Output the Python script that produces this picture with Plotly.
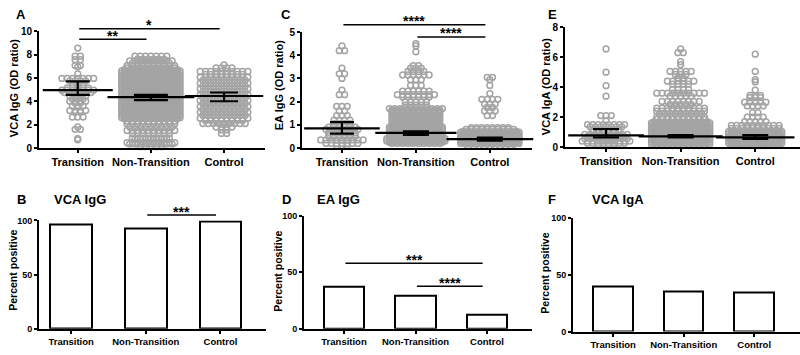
import plotly.graph_objects as go

W, H = 800, 355
categories = ["Transition", "Non-Transition", "Control"]

# ---------------- Panel A : VCA IgG (OD ratio) swarm rows (level, number of points) ----------------
A_T_levels = [8.55, 7.85, 7.55, 7.05, 6.95, 6.35, 5.95, 5.75, 5.4, 5.15, 4.95, 4.75, 4.45, 4.2, 4.0, 3.85, 3.6, 3.2, 3.05, 2.65, 1.8, 1.6, 0.8, 0.7]
A_T_counts = [1, 2, 2, 2, 1, 1, 7, 4, 3, 5, 7, 6, 4, 3, 4, 2, 3, 4, 2, 3, 1, 2, 1, 1]
A_NT_levels = [7.85, 7.6, 7.45, 7.25, 7.05, 6.85,
               6.7, 6.6, 6.5, 6.4, 6.3, 6.2, 6.1, 6.0, 5.9, 5.8, 5.7, 5.6, 5.5, 5.4, 5.3, 5.2, 5.1, 5.0,
               4.9, 4.8, 4.7, 4.6, 4.5, 4.4, 4.3, 4.2, 4.1, 4.0, 3.9, 3.8, 3.7, 3.6, 3.5, 3.4, 3.3, 3.2,
               3.1, 3.0, 2.9, 2.8, 2.7, 2.6, 2.5,
               2.3, 2.05, 1.8, 1.5, 1.25, 0.85, 0.75, 0.45, 0.35, 0.12]
A_NT_counts = [7, 6, 9, 8, 10, 10,
               11, 12, 11, 12, 11, 12, 11, 12, 11, 12, 11, 12, 11, 12, 11, 12, 11, 12,
               11, 12, 11, 12, 11, 12, 11, 12, 11, 12, 11, 12, 11, 12, 11, 12, 11, 12,
               11, 12, 11, 12, 11, 12, 11,
               10, 10, 9, 10, 8, 8, 7, 10, 9, 5]
A_C_levels = [7.1, 6.85, 6.55, 6.3, 6.05, 5.8, 5.55, 5.3, 5.05, 4.8, 4.55, 4.3, 4.05, 3.8, 3.55, 3.3, 3.05, 2.8, 2.55, 2.35, 2.1, 1.8, 1.55, 1.25]
A_C_counts = [1, 4, 10, 8, 10, 9, 10, 9, 10, 9, 10, 9, 10, 9, 10, 9, 10, 9, 10, 8, 9, 4, 2, 2]
A_mean = [4.95, 4.35, 4.45]
A_lo = [4.55, 4.1, 4.0]
A_hi = [5.7, 4.55, 4.75]

# ---------------- Panel C : EA IgG (OD ratio) ----------------
C_T_levels = [4.4, 4.2, 3.45, 3.2, 3.0, 2.5, 2.3, 1.8, 1.6, 1.4, 1.2, 1.05, 0.9, 0.8, 0.65, 0.5, 0.35, 0.2, 0.1]
C_T_counts = [1, 2, 1, 2, 1, 1, 2, 3, 2, 3, 4, 4, 6, 7, 6, 6, 9, 7, 3]
C_NT_levels = [4.5, 4.4, 4.15, 3.55, 3.45, 3.3, 3.15, 2.95, 2.7, 2.45, 2.3, 2.2, 2.0, 1.85,
               1.7, 1.65, 1.6, 1.55, 1.5, 1.45, 1.4, 1.35, 1.3, 1.25, 1.2, 1.15, 1.1, 1.05, 1.0,
               0.95, 0.9, 0.85, 0.8, 0.75, 0.7, 0.65, 0.6, 0.55, 0.5, 0.45, 0.4, 0.35, 0.3, 0.25, 0.2]
C_NT_counts = [1, 1, 1, 2, 3, 4, 6, 3, 3, 6, 8, 6, 5, 5,
               11, 10, 10, 10, 10, 9, 10, 9, 10, 9, 10, 9, 10, 9, 10,
               10, 11, 10, 11, 10, 11, 10, 11, 10, 11, 11, 12, 11, 12, 11, 10]
C_C_levels = [3.05, 2.95, 2.7, 2.35, 2.1, 1.9, 1.75, 1.6, 1.4, 0.88, 0.8,
              0.72, 0.68, 0.64, 0.6, 0.56, 0.52, 0.48, 0.44, 0.4, 0.36, 0.32, 0.28, 0.24, 0.2, 0.16]
C_C_counts = [2, 1, 1, 1, 4, 3, 2, 3, 2, 8, 10,
              11, 12, 11, 12, 11, 12, 11, 12, 11, 12, 11, 12, 11, 12, 10]
C_mean = [0.85, 0.65, 0.38]
C_lo = [0.62, 0.57, 0.32]
C_hi = [1.12, 0.72, 0.45]

# ---------------- Panel E : VCA IgA (OD ratio) ----------------
E_T_levels = [6.55, 5.0, 4.1, 3.4, 2.1, 1.75, 1.5, 1.35, 1.15, 1.0, 0.85, 0.7, 0.55, 0.4, 0.25, 0.1]
E_T_counts = [1, 1, 1, 1, 3, 1, 8, 7, 6, 6, 9, 8, 9, 10, 8, 4]
E_NT_levels = [6.55, 6.3, 5.7, 5.5, 5.05, 4.85, 4.6, 4.4, 4.2, 3.85, 3.6, 3.4, 3.05, 2.85, 2.6, 2.4, 2.2, 2.0, 1.85,
               1.7, 1.62, 1.54, 1.46, 1.38, 1.3, 1.22, 1.14, 1.06, 0.98, 0.9, 0.82, 0.74, 0.66, 0.58, 0.5,
               0.42, 0.34, 0.26, 0.18, 0.1]
E_NT_counts = [1, 2, 1, 1, 5, 3, 2, 6, 4, 4, 10, 5, 8, 5, 10, 10, 9, 10, 10,
               11, 12, 11, 12, 11, 12, 11, 12, 11, 12, 11, 12, 11, 12, 11, 12,
               11, 12, 11, 12, 10]
E_C_levels = [6.2, 5.05, 4.5, 4.35, 3.8, 3.45, 3.3, 3.0, 2.75, 2.3, 2.0, 1.7, 1.45, 1.25,
              1.05, 0.97, 0.89, 0.81, 0.73, 0.65, 0.57, 0.49, 0.41, 0.33, 0.25, 0.17, 0.1]
E_C_counts = [1, 1, 1, 1, 1, 3, 3, 5, 4, 2, 4, 5, 10, 10,
              11, 10, 11, 10, 11, 10, 11, 10, 11, 10, 11, 10, 9]
E_mean = [0.78, 0.72, 0.65]
E_lo = [0.65, 0.65, 0.55]
E_hi = [1.2, 0.8, 0.8]

# ---------------- Percent positive bars ----------------
B_pct = [96, 92.5, 99.5]
D_pct = [37, 29, 12.5]
F_pct = [39.5, 35, 34.5]

# significance comparisons: (from category, to category, label, level)
A_sig = [(0, 1, "**", 9.3), (0, 2, "*", 10.2)]
C_sig = [(0, 2, "****", 5.32), (1, 2, "****", 4.79)]
B_sig = [(1, 2, "***", 105)]
D_sig = [(0, 2, "***", 58), (1, 2, "****", 37.5)]

# ---------------- layout of panels (pixel boxes) ----------------
panels = {
    "A": dict(ax=1, px=(39, 265), py=(147, 26), xr=(-0.53, 2.56), yr=(0, 10), dt=2,
              title="VCA IgG (OD ratio)", tpos=(14, 85), letter=(21, 9)),
    "C": dict(ax=2, px=(302, 532), py=(147, 27), xr=(-0.54, 2.57), yr=(0, 5), dt=1,
              title="EA IgG (OD ratio)", tpos=(279, 82), letter=(286, 9)),
    "E": dict(ax=3, px=(565, 800), py=(146, 22), xr=(-0.55, 2.6), yr=(0, 8), dt=2,
              title="VCA IgA (OD ratio)", tpos=(546, 84), letter=(552, 9)),
    "B": dict(ax=4, px=(39, 266), py=(334, 222), xr=(-0.43, 2.61), yr=(0, 100), dt=50,
              title="Percent positive", tpos=(13, 274), letter=(21, 200), head=("VCA IgG", 80)),
    "D": dict(ax=5, px=(304, 532), py=(334, 217), xr=(-0.56, 2.63), yr=(0, 100), dt=50,
              title="Percent positive", tpos=(278, 275), letter=(286, 200), head=("EA IgG", 338)),
    "F": dict(ax=6, px=(573, 800), py=(337, 219), xr=(-0.57, 2.65), yr=(0, 100), dt=50,
              title="Percent positive", tpos=(545, 277), letter=(552, 200), head=("VCA IgA", 618)),
}

GRAY = "#a4a4a4"
FONT = "Liberation Sans, Arial, sans-serif"
fig = go.Figure()


def refs(p):
    n = p["ax"]
    return ("x" if n == 1 else f"x{n}"), ("y" if n == 1 else f"y{n}")


def to_px(p, x, y):
    (x0, x1), (r0, r1) = p["px"], p["xr"]
    (yb, yt), (v0, v1) = p["py"], p["yr"]
    return x0 + (x - r0) / (r1 - r0) * (x1 - x0), yb + (y - v0) / (v1 - v0) * (yt - yb)


def swarm(p, levels, counts, center):
    xs, ys = [], []
    ppu = (p["px"][1] - p["px"][0]) / (p["xr"][1] - p["xr"][0])
    dx = 5.3 / ppu
    for lv, n in zip(levels, counts):
        for k in range(n):
            xs.append(center + (k - (n - 1) / 2) * dx)
            ys.append(lv)
    return xs, ys


scatter_data = {
    "A": ([(A_T_levels, A_T_counts), (A_NT_levels, A_NT_counts), (A_C_levels, A_C_counts)],
          A_mean, A_lo, A_hi, [25, 31, 28], [12, 17, 14]),
    "C": ([(C_T_levels, C_T_counts), (C_NT_levels, C_NT_counts), (C_C_levels, C_C_counts)],
          C_mean, C_lo, C_hi, [27, 29, 31], [12, 13, 13]),
    "E": ([(E_T_levels, E_T_counts), (E_NT_levels, E_NT_counts), (E_C_levels, E_C_counts)],
          E_mean, E_lo, E_hi, [27, 30, 28], [13, 13, 13]),
}

for key, (groups, mean, lo, hi, mhw, caps) in scatter_data.items():
    p = panels[key]
    xr_, yr_ = refs(p)
    for i, (lv, ct) in enumerate(groups):
        xs, ys = swarm(p, lv, ct, i)
        fig.add_trace(go.Scatter(
            x=xs, y=ys, mode="markers", xaxis=xr_, yaxis=yr_, cliponaxis=False,
            marker=dict(symbol="circle-open", size=5.8, color=GRAY, line=dict(width=1.5, color=GRAY)),
            hoverinfo="y"))
    for i in range(3):
        fig.add_trace(go.Scatter(
            x=[i], y=[mean[i]], mode="markers", xaxis=xr_, yaxis=yr_, cliponaxis=False,
            marker=dict(symbol="line-ew-open", size=2 * mhw[i], color="black",
                        line=dict(width=2.2, color="black")),
            error_y=dict(type="data", symmetric=False, array=[hi[i] - mean[i]],
                         arrayminus=[mean[i] - lo[i]], width=caps[i], thickness=2.2, color="black")))

for key, vals in (("B", B_pct), ("D", D_pct), ("F", F_pct)):
    p = panels[key]
    xr_, yr_ = refs(p)
    fig.add_trace(go.Bar(x=[0, 1, 2], y=vals, width=0.56, xaxis=xr_, yaxis=yr_,
                         marker=dict(color="white", line=dict(color="black", width=2))))

layout = dict(width=W, height=H, margin=dict(l=0, r=0, t=0, b=0),
              paper_bgcolor="white", plot_bgcolor="white", showlegend=False,
              font=dict(family=FONT, color="black"), bargap=0)
annotations, shapes = [], []

for key, p in panels.items():
    n = p["ax"]
    xname = "xaxis" if n == 1 else f"xaxis{n}"
    yname = "yaxis" if n == 1 else f"yaxis{n}"
    xr_, yr_ = refs(p)
    top = key in ("A", "C", "E")
    layout[xname] = dict(
        domain=[p["px"][0] / W, p["px"][1] / W], range=list(p["xr"]), anchor=yr_,
        tickvals=[0, 1, 2], ticktext=categories, showline=True, linecolor="black", linewidth=2,
        ticks="outside", ticklen=3, tickwidth=1.5, tickcolor="black", showgrid=False, zeroline=False,
        tickfont=dict(size=11 if top else 9.5, family=FONT, weight="bold", color="black"), fixedrange=True)
    layout[yname] = dict(
        domain=[1 - p["py"][0] / H, 1 - p["py"][1] / H], range=list(p["yr"]), anchor=xr_,
        tickmode="linear", tick0=0, dtick=p["dt"], showline=True, linecolor="black", linewidth=2,
        ticks="outside", ticklen=3, tickwidth=1.5, tickcolor="black", showgrid=False, zeroline=False,
        tickfont=dict(size=10 if top else 9, family=FONT, weight="bold", color="black"), fixedrange=True)
    annotations.append(dict(text="<b>" + p["title"] + "</b>", x=p["tpos"][0] / W, y=1 - p["tpos"][1] / H,
                            xref="paper", yref="paper", textangle=-90, showarrow=False,
                            xanchor="center", yanchor="middle",
                            font=dict(size=11 if top else 10.5, family=FONT)))
    annotations.append(dict(text="<b>" + key + "</b>", x=p["letter"][0] / W, y=1 - p["letter"][1] / H,
                            xref="paper", yref="paper", showarrow=False, xanchor="center", yanchor="middle",
                            font=dict(size=13, family=FONT)))
    if "head" in p:
        annotations.append(dict(text="<b>" + p["head"][0] + "</b>", x=p["head"][1] / W, y=1 - p["letter"][1] / H,
                                xref="paper", yref="paper", showarrow=False, xanchor="center",
                                yanchor="middle", font=dict(size=13, family=FONT)))

for key, sig in (("A", A_sig), ("C", C_sig), ("B", B_sig), ("D", D_sig)):
    p = panels[key]
    for i, j, lab, lvl in sig:
        xa, ya = to_px(p, i + 0.02, lvl)
        xb, _ = to_px(p, j - 0.06, lvl)
        shapes.append(dict(type="line", xref="paper", yref="paper", x0=xa / W, x1=xb / W,
                           y0=1 - ya / H, y1=1 - ya / H, line=dict(color="black", width=1.5)))
        annotations.append(dict(text="<b>" + lab + "</b>", x=(xa + xb) / 2 / W, y=1 - (ya - 0.5) / H,
                                xref="paper", yref="paper", showarrow=False, xanchor="center",
                                yanchor="bottom", yshift=-7,
                                font=dict(size=14, family=FONT)))

layout["annotations"] = annotations
layout["shapes"] = shapes
fig.update_layout(**layout)
fig.write_html("out.html", config={"displayModeBar": False},
               post_script="document.body.style.margin='0px';document.body.style.overflow='hidden';")
